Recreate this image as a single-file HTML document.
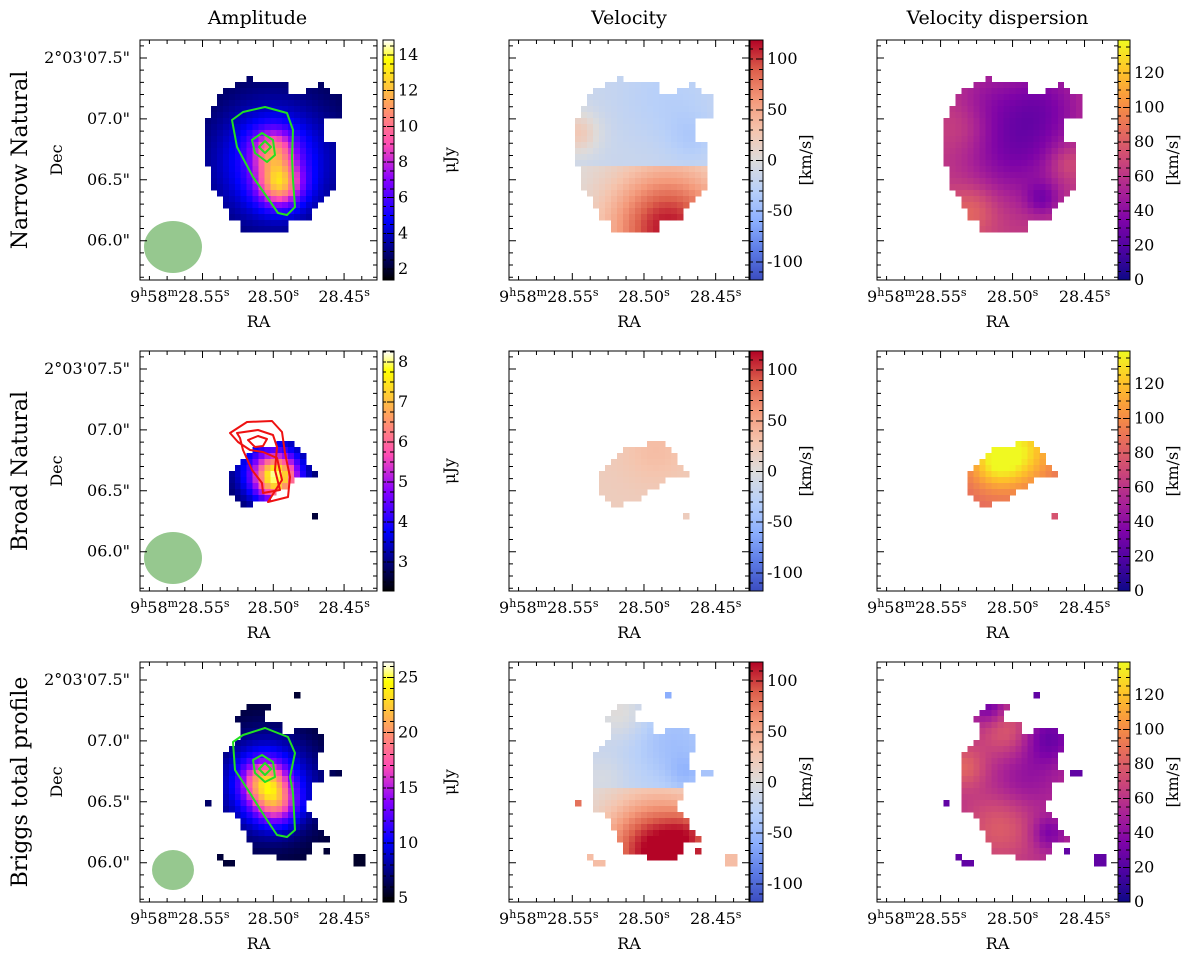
<!DOCTYPE html>
<html><head><meta charset="utf-8"><style>
html,body{margin:0;padding:0;background:#fff;}
svg{display:block;font-family:"DejaVu Serif","Liberation Serif",serif;}
</style></head><body>
<svg id="fig" width="1200" height="961" viewBox="0 0 1200 961" xmlns="http://www.w3.org/2000/svg"></svg>
<script>
// ---------- data ----------
const rowNames = ["Narrow Natural","Broad Natural","Briggs total profile"];
const colTitles = ["Amplitude","Velocity","Velocity dispersion"];
const decLabels = ["2°03'07.5\"","07.0\"","06.5\"","06.0\""];
const raLabels = ["28.55","28.50","28.45"];
// masks: [row, colStart, colEnd] in 40x40 cells
const mask1 = [[6,18,18],[7,16,24],[7,30,30],[8,14,24],[8,28,31],[9,13,33],[10,13,33],[11,12,33],[12,12,33],[13,11,30],[14,11,30],[15,11,30],[16,11,30],[17,11,32],[18,11,32],[19,11,32],[20,11,32],[21,12,32],[22,12,32],[23,12,32],[24,12,32],[25,13,31],[26,14,30],[27,14,29],[28,15,28],[29,15,28],[30,17,24],[31,17,24]];
const mask2 = [[15,23,25],[16,19,26],[17,18,27],[18,17,27],[19,16,28],[20,15,29],[21,15,25],[22,15,24],[23,15,22],[24,16,21],[25,17,18],[27,29,29]];
const mask3 = [[7,18,20],[7,21,21],[8,17,20],[9,16,20],[10,17,23],[11,17,23],[11,26,29],[12,17,30],[13,16,30],[14,15,30],[15,14,29],[16,14,29],[17,14,29],[18,14,30],[19,14,30],[20,14,28],[21,14,28],[22,14,28],[23,14,27],[24,14,27],[25,16,28],[26,17,29],[27,17,29],[28,18,30],[29,18,31],[30,19,28],[31,19,28],[32,23,27],[5,26,26],[18,32,33],[23,11,11],[32,13,13],[33,14,15],[31,31,31],[32,36,37],[33,36,37]];
// fields: base, gaussian components [col,row,sigma,amp]; split rows use lower list
const ampBase = [2.4, 2.5, 5.5];
const ampComps = [
 [[22,18,2.5,5],[23,23.5,2.5,7],[22,20,7,3.5]],
 [[22.5,20.5,2.5,4.5],[21,19,5,1.3]],
 [[20.5,19.5,2.5,10],[22.5,23,2.5,8],[21,20,6,6]]];
const velBase = [-15, 20, -20];
const velComps = [
 [[11,15,2.5,40],[26,9,6,-15],[30,16,3,-15]],
 [[24,16,4,15]],
 [[18,8,3,25],[27,13,5,-25],[29,18,2,-20],[15,19,3,15]]];
const velSplit = [21, 99, 21];
const velLowBase = [0, 20, 0];
const velLowComps = [
 [[26,31,7,115]],
 [],
 [[24,31,6,125],[30,28,3,40]]];
const velOutliers = [[],[],[[26,5,-60],[32,18,-40],[33,18,-40],[11,23,80],[13,32,35],[14,33,35],[15,33,35],[31,31,110],[36,32,35],[37,32,35],[36,33,35],[37,33,35]]];
const dispBase = [65, 85, 58];
const dispComps = [
 [[22,18,6,-30],[27,10,5,-25],[17,9,4,-12],[31,20,2,15],[14,14,3,10],[15,28,3,22],[27,26,2,-25]],
 [[23,16,4,45],[19,18,3,35],[29,27,1,-10]],
 [[14,17,2.5,25],[21,11,3,22],[20,27,4,22],[28,12,3,-30],[18,7,2,-30],[28,28,2,-25],[24,19,4,-15]]];
const dispOutliers = [[],[],[[26,5,25],[32,18,25],[33,18,25],[11,23,25],[13,32,25],[14,33,25],[15,33,25],[31,31,25],[36,32,25],[37,32,25],[36,33,25],[37,33,25]]];
const ampRange = [[1.39,14.84],[2.27,8.28],[4.65,26.4]];
const ampTicks = [[2,4,6,8,10,12,14],[3,4,5,6,7,8],[5,10,15,20,25]];
const velRange = [-118,119];
const velTicks = [-100,-50,0,50,100];
const dispRange = [0,139];
const dispTicks = [0,20,40,60,80,100,120];
// ---------- layout ----------
const colX = [140,509,877], colW = [237,240,241];
const rowY = [40,351,662], H = 240;
const cbX = [383,750,1118], cbW = [11,13,12];
const svg = document.getElementById('fig');
const NS = "http://www.w3.org/2000/svg";
function mk(tag, attrs, parent){const e=document.createElementNS(NS,tag);for(const k in attrs)e.setAttribute(k,attrs[k]);(parent||svg).appendChild(e);return e;}
function lerpStops(stops,t){t=Math.max(0,Math.min(1,t));for(let i=1;i<stops.length;i++){if(t<=stops[i][0]){const a=stops[i-1],b=stops[i];const f=(t-a[0])/(b[0]-a[0]);return `rgb(${[1,2,3].map(j=>Math.round(a[j]+(b[j]-a[j])*f)).join(',')})`;}}const l=stops[stops.length-1];return `rgb(${l[1]},${l[2]},${l[3]})`;}
function gnuplot2(x){const c=v=>Math.max(0,Math.min(1,v));const r=c(x/0.32-0.78125),g=c(2*x-0.84);let b;if(x<0.25)b=4*x;else if(x<0.42)b=1;else if(x<0.92)b=-2*x+1.84;else b=x/0.08-11.5;b=c(b);return `rgb(${Math.round(r*255)},${Math.round(g*255)},${Math.round(b*255)})`;}
const cwStops=[[0,59,76,192],[0.125,92,123,229],[0.25,141,176,254],[0.375,184,208,249],[0.5,221,220,220],[0.625,245,196,173],[0.75,244,154,123],[0.875,221,96,76],[1,180,4,38]];
const plStops=[[0,13,8,135],[0.125,75,3,161],[0.25,126,3,168],[0.375,170,35,149],[0.5,204,71,120],[0.625,230,108,92],[0.75,248,149,64],[0.875,254,196,40],[1,240,249,33]];
const coolwarm=t=>lerpStops(cwStops,t), plasma=t=>lerpStops(plStops,t);
function field(base,comps,c,r){let v=base;for(const g of comps){const d=((c-g[0])**2+(r-g[1])**2)/(2*g[2]*g[2]);v+=g[3]*Math.exp(-d);}return v;}
function cells(m){const out=[];for(const s of m)for(let c=s[1];c<=s[2];c++)out.push([c,s[0]]);return out;}
// ---------- text ----------
function txt(x,y,s,size,anchor,parent,name,rot){const t=mk('text',{x:x,y:y,'font-size':size,'text-anchor':anchor||'middle',fill:'#000'},parent);if(rot)t.setAttribute('transform',`rotate(-90 ${x} ${y})`);t.textContent=s;return t;}
colTitles.forEach((s,i)=>txt(colX[i]+colW[i]/2+ (i==0?-1:0),24,s,19,'middle',svg,'column-title-'+i));
rowNames.forEach((s,i)=>txt(27,rowY[i]+H/2,s,22,'middle',svg,'row-label-'+i,true));
// ---------- panels ----------
const masks=[mask1,mask2,mask3];
for(let r=0;r<3;r++){for(let c=0;c<3;c++){
 const g=mk('g',{});  
 const x0=colX[c], y0=rowY[r], W=colW[c], cs=W/40, ch=H/40;
 const mg=mk('g',{'shape-rendering':'crispEdges'},g);
  
 let pts=cells(masks[r]).map(p=>[p[0],p[1],null]);
 if(c==1) velOutliers[r].forEach(o=>pts.push([o[0],o[1],o[2]]));
 if(c==2) dispOutliers[r].forEach(o=>pts.push([o[0],o[1],o[2]]));
 if(r==2 && c>0){pts=pts.filter(p=>p[2]!==null || !velOutliers[2].some(o=>o[0]==p[0]&&o[1]==p[1]));}
 for(const p of pts){
  let col;
  if(c==0){const v=field(ampBase[r],ampComps[r],p[0],p[1]);const rg=ampRange[r];col=gnuplot2((v-rg[0])/(rg[1]-rg[0]));}
  else if(c==1){let v=p[2];if(v===null){v=p[1]>=velSplit[r]?field(velLowBase[r],velLowComps[r],p[0],p[1]):field(velBase[r],velComps[r],p[0],p[1]);}col=coolwarm((v-velRange[0])/(velRange[1]-velRange[0]));}
  else {let v=p[2];if(v===null)v=field(dispBase[r],dispComps[r],p[0],p[1]);col=plasma((v-dispRange[0])/(dispRange[1]-dispRange[0]));}
  const re=mk('rect',{x:(x0+p[0]*cs).toFixed(2),y:(y0+p[1]*ch).toFixed(2),width:(cs+0.4).toFixed(2),height:(ch+0.4).toFixed(2),fill:col},mg);
   
 }
 if(c==0){
  const be=mk('ellipse',r==2?{cx:173,cy:y0+208,rx:21,ry:20,fill:'#96c88f'}:{cx:173,cy:y0+207,rx:29,ry:26,fill:'#96c88f'},g);
   
  const P=(a)=>'M'+a.map(q=>(x0+q[0])+','+(y0+q[1])).join(' L')+' Z';
  let paths,stroke;
  if(r==0){stroke='#22e022';paths=[[[125,67],[147,73],[153,90],[152,117],[153,140],[155,167],[147,175],[138,173],[127,157],[113,137],[97,107],[92,80],[103,72]],[[122,93],[133,100],[135,115],[127,122],[115,113],[112,100]],[[125,101],[131,107],[125,113],[119,107]]];}
  else if(r==2){stroke='#22e022';paths=[[[125,66],[148,75],[155,91],[150,115],[153,131],[155,168],[147,175],[137,173],[125,155],[108,128],[95,108],[93,80],[103,73]],[[122,93],[133,100],[135,115],[125,120],[115,111],[113,98]],[[125,101],[131,107],[125,113],[119,107]]];}
  else {stroke='#ee1111';paths=[[[90,82],[107,71],[132,70],[142,81],[145,102],[150,126],[148,146],[128,151],[142,129],[137,107],[123,101],[110,99],[98,91]],[[97,82],[118,79],[133,84],[137,96],[135,119],[140,139],[123,142],[122,132],[112,119],[103,99],[100,87]],[[108,89],[118,85],[127,88],[123,95],[115,96]]];}
  paths.forEach((a,k)=>{const pe=mk('path',{d:P(a),fill:'none',stroke:stroke,'stroke-width':2,'stroke-linejoin':'round'},g);});
 }
 const fr=mk('rect',{x:x0,y:y0,width:W,height:H,fill:'none',stroke:'#000','stroke-width':1},g);
  
 let d='';
 for(let k=-3;k<=10;k++){const tx=x0+63.3*W/240+17.92*W/240*k;if(tx<x0+1||tx>x0+W-1)continue;const L=(k%4==0)?7:4;d+=`M${tx},${y0+H} v${-L} M${tx},${y0} v${L} `;}
 for(let k=-1;k<=20;k++){const ty=y0+18+12.18*k;if(ty<y0+1||ty>y0+H-1)continue;const L=(k%5==0)?7:4;d+=`M${x0},${ty} h${L} M${x0+W},${ty} h${-L} `;}
 const tk=mk('path',{d:d,stroke:'#000','stroke-width':1,fill:'none'},g);
  
 const maj=[63.3,135,206.7].map(v=>x0+v*W/240);
 raLabels.forEach((s,i)=>{
  const t=mk('text',{x:maj[i],y:y0+H+22,'font-size':16,'text-anchor':'middle',fill:'#000'},g);
   
  if(i==0){t.setAttribute('x',x0-10);t.setAttribute('text-anchor','start');t.innerHTML='9<tspan font-size="11" dy="-6">h</tspan><tspan dy="6">58</tspan><tspan font-size="11" dy="-6">m</tspan><tspan dy="6">28.55</tspan><tspan font-size="11" dy="-6">s</tspan>';}
  else t.innerHTML=s+'<tspan font-size="11" dy="-6">s</tspan>';
 });
 txt(x0+W/2,y0+H+47,'RA',16,'middle',g,'x-axis-title');
 if(c==0){
  decLabels.forEach((s,i)=>txt(x0-10,y0+18+60.9*i+5,s,16,'end',g,'dec-tick-label'));
  txt(x0-78,y0+H/2,'Dec',16,'middle',g,'y-axis-title',true);
 }
 const cb=mk('g',{'shape-rendering':'crispEdges'},g);
  
 const cx=cbX[c], cw=cbW[c], N=120;
 for(let i=0;i<N;i++){const t=(i+0.5)/N;const f=c==0?gnuplot2(t):c==1?coolwarm(t):plasma(t);const re=mk('rect',{x:cx,y:(y0+H-(i+1)*H/N).toFixed(2),width:cw,height:(H/N+0.4).toFixed(2),fill:f},cb);}
 mk('rect',{x:cx,y:y0,width:cw,height:H,fill:'none',stroke:'#000','stroke-width':1},cb);
 const rg=c==0?ampRange[r]:c==1?velRange:dispRange, ticks=c==0?ampTicks[r]:c==1?velTicks:dispTicks;
 const yOf=v=>y0+H-(v-rg[0])/(rg[1]-rg[0])*H;
 const minorStep=c==0?[0.5,0.25,1][r]:c==1?10:5;
 let cd='';
 for(let v=Math.ceil(rg[0]/minorStep)*minorStep;v<=rg[1];v+=minorStep){const yy=yOf(v);cd+=`M${cx+cw},${yy} h-4 M${cx},${yy} h3 `;}
 ticks.forEach(v=>{const yy=yOf(v);cd+=`M${cx+cw},${yy} h-7 `;});
 const ct=mk('path',{d:cd,stroke:'#000','stroke-width':1,fill:'none'},cb);
  
 ticks.forEach(v=>txt(cx+cw+4,yOf(v)+5,String(v),16,'start',g,'colorbar-tick-label'));
 if(c==0) txt(cx+72,y0+H/2,'μJy',16,'middle',g,'colorbar-label',true);
 else txt(cx+cw+48,y0+H/2,'[km/s]',16,'middle',g,'colorbar-label',true);
}}
</script>
</body></html>
